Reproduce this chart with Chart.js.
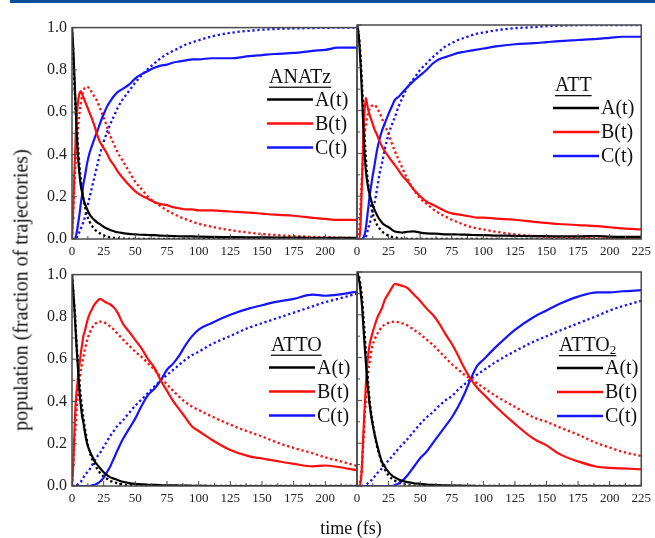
<!DOCTYPE html>
<html>
<head>
<meta charset="utf-8">
<script src="https://cdn.jsdelivr.net/npm/chart.js@4.4.1/dist/chart.umd.min.js"></script>
<style>
  body { margin: 0; background: #fff; width: 655px; height: 538px; position: relative; overflow: hidden; font-family: "Liberation Serif", serif; }
  #bar { position: absolute; left: 10px; top: 0; width: 645px; height: 3px; background: #0b4f9c; }
  canvas { position: absolute; }
  #ytitle { position: absolute; left: 21px; top: 290px; transform: translate(-50%, -50%) rotate(-90deg); white-space: nowrap; font-size: 20px; color: #111; }
  #xtitle { position: absolute; left: 351px; top: 528px; transform: translate(-50%, -50%); white-space: nowrap; font-size: 18px; color: #111; }
</style>
</head>
<body>
<div id="bar"></div>
<canvas id="anatz" width="344" height="254"></canvas>
<canvas id="att" width="344" height="254"></canvas>
<canvas id="atto" width="344" height="254"></canvas>
<canvas id="atto2" width="344" height="254"></canvas>
<div id="ytitle">population (fraction of trajectories)</div>
<div id="xtitle">time (fs)</div>
<script>
// sample times (fs), shared by every series
const time = [0,1,2,3,4,5,6,7,8,9,10,12,14,16,18,20,22,25,28,30,33,36,40,45,50,55,60,65,70,75,80,85,90,95,100,110,125,140,150,160,175,190,200,210,225];

// ANATz
const anatzA    = [1,0.9,0.76,0.61,0.47,0.37,0.3,0.25,0.22,0.19,0.17, 0.14,0.115,0.1,0.088,0.078,0.07, 0.058,0.048,0.043,0.037,0.032, 0.028,0.024,0.022,0.02,0.019,0.018,0.016,0.015,0.014,0.013,0.012,0.012,0.011, 0.01,0.009,0.008,0.008,0.007,0.007,0.006,0.006,0.005,0.005];
const anatzAfit = [1,0.85,0.72,0.6,0.5,0.42,0.34,0.28,0.23,0.19,0.16, 0.11,0.08,0.06,0.045,0.035,0.027, 0.017,0.011,0.008,0.005,0.003, 0.002,0.001,0,0,0,0,0,0,0,0,0,0,0, 0,0,0,0,0,0,0,0,0,0];
const anatzB    = [0,0.15,0.33,0.5,0.6,0.66,0.69,0.7,0.685,0.67,0.655, 0.625,0.595,0.565,0.53,0.49,0.46, 0.43,0.4,0.375,0.35,0.32, 0.29,0.255,0.225,0.205,0.19,0.175,0.165,0.16,0.15,0.145,0.14,0.14,0.135, 0.135,0.13,0.125,0.12,0.115,0.11,0.1,0.095,0.09,0.09];
const anatzBfit = [0,0.14,0.27,0.38,0.47,0.54,0.6,0.64,0.68,0.7,0.715, 0.72,0.71,0.69,0.67,0.65,0.62, 0.575,0.525,0.49,0.45,0.41, 0.37,0.32,0.27,0.235,0.2,0.175,0.155,0.135,0.12,0.105,0.093,0.082,0.072, 0.058,0.042,0.03,0.024,0.019,0.014,0.01,0.008,0.006,0.004];
const anatzC    = [0,0,0,0.01,0.04,0.08,0.12,0.17,0.21,0.26,0.29, 0.36,0.41,0.445,0.48,0.51,0.545, 0.59,0.63,0.65,0.675,0.695, 0.71,0.73,0.76,0.78,0.795,0.81,0.82,0.825,0.835,0.84,0.845,0.85,0.85, 0.855,0.855,0.865,0.87,0.875,0.88,0.89,0.895,0.905,0.905];
const anatzCfit = [0,0,0,0,0.01,0.02,0.035,0.05,0.065,0.08,0.1, 0.15,0.2,0.25,0.3,0.35,0.4, 0.46,0.51,0.54,0.58,0.62, 0.66,0.7,0.74,0.775,0.805,0.83,0.855,0.875,0.89,0.905,0.92,0.93,0.94, 0.958,0.975,0.985,0.99,0.993,0.996,0.998,0.999,1,1];

// ATT
const attA    = [1,0.97,0.9,0.8,0.67,0.52,0.4,0.32,0.27,0.235,0.21, 0.165,0.135,0.11,0.09,0.075,0.065, 0.055,0.042,0.035,0.032,0.03, 0.034,0.036,0.03,0.026,0.025,0.024,0.022,0.022,0.021,0.02,0.019,0.018,0.018, 0.016,0.015,0.013,0.013,0.012,0.012,0.014,0.011,0.01,0.01];
const attAfit = [1,0.97,0.92,0.83,0.72,0.6,0.48,0.38,0.3,0.25,0.2, 0.13,0.09,0.065,0.048,0.035,0.025, 0.015,0.009,0.007,0.004,0.002, 0.001,0,0,0,0,0,0,0,0,0,0,0,0, 0,0,0,0,0,0,0,0,0,0];
const attB    = [0,0,0,0.1,0.28,0.48,0.6,0.66,0.63,0.6,0.58, 0.545,0.51,0.485,0.455,0.43,0.41, 0.385,0.36,0.345,0.32,0.295, 0.27,0.23,0.2,0.175,0.16,0.145,0.13,0.12,0.115,0.11,0.105,0.1,0.1, 0.095,0.09,0.08,0.075,0.07,0.065,0.06,0.055,0.05,0.045];
const attBfit = [0,0,0.06,0.18,0.3,0.4,0.49,0.53,0.57,0.59,0.61, 0.623,0.626,0.61,0.59,0.56,0.53, 0.49,0.44,0.41,0.37,0.33, 0.28,0.23,0.19,0.165,0.14,0.12,0.105,0.09,0.078,0.066,0.057,0.05,0.045, 0.034,0.022,0.014,0.01,0.008,0.005,0.003,0.002,0.001,0];
const attC    = [0,0,0,0,0,0.005,0.02,0.05,0.1,0.15,0.2, 0.28,0.35,0.42,0.47,0.51,0.54, 0.585,0.625,0.65,0.665,0.685, 0.71,0.74,0.765,0.79,0.82,0.84,0.85,0.86,0.87,0.875,0.88,0.885,0.89, 0.9,0.91,0.915,0.92,0.925,0.93,0.935,0.94,0.945,0.945];
const attCfit = [0,0,0,0,0,0,0,0.01,0.03,0.05,0.07, 0.12,0.17,0.24,0.31,0.36,0.42, 0.49,0.54,0.57,0.62,0.66, 0.71,0.75,0.79,0.82,0.85,0.875,0.9,0.915,0.93,0.94,0.95,0.96,0.965, 0.975,0.985,0.99,0.995,0.997,0.999,1,1,1,1];

// ATTO
const attoA    = [1,0.92,0.83,0.72,0.62,0.53,0.44,0.38,0.33,0.3,0.26, 0.2,0.165,0.14,0.115,0.1,0.085, 0.065,0.05,0.042,0.035,0.028, 0.02,0.014,0.01,0.008,0.006,0.005,0.004,0.003,0.003,0.002,0.002,0.001,0.001, 0,0,0,0,0,0,0,0,0,0];
const attoAfit = [1,0.92,0.84,0.74,0.64,0.56,0.48,0.42,0.37,0.32,0.28, 0.21,0.16,0.125,0.1,0.08,0.063, 0.045,0.033,0.025,0.018,0.013, 0.008,0.004,0.002,0.001,0,0,0,0,0,0,0,0,0, 0,0,0,0,0,0,0,0,0,0];
const attoB    = [0,0.1,0.27,0.4,0.47,0.53,0.58,0.63,0.67,0.71,0.73, 0.78,0.815,0.84,0.86,0.875,0.885, 0.875,0.865,0.86,0.845,0.82, 0.77,0.73,0.69,0.65,0.6,0.56,0.5,0.45,0.4,0.36,0.32,0.28,0.26, 0.22,0.17,0.14,0.13,0.12,0.105,0.093,0.097,0.09,0.075];
const attoBfit = [0,0.11,0.21,0.3,0.39,0.45,0.5,0.55,0.58,0.61,0.64, 0.69,0.725,0.75,0.765,0.775,0.778, 0.775,0.765,0.755,0.74,0.72, 0.695,0.665,0.635,0.61,0.58,0.55,0.515,0.48,0.45,0.42,0.395,0.375,0.36, 0.33,0.29,0.255,0.235,0.21,0.18,0.155,0.135,0.12,0.095];
const attoC    = [0,0,0,0,0,0,0,0,0,0,0, 0,0,0.003,0.006,0.012,0.02, 0.04,0.07,0.09,0.13,0.17, 0.22,0.27,0.32,0.38,0.43,0.46,0.5,0.55,0.58,0.62,0.67,0.71,0.74, 0.77,0.81,0.84,0.855,0.87,0.885,0.905,0.9,0.905,0.92];
const attoCfit = [0,0,0,0,0.005,0.01,0.015,0.02,0.03,0.04,0.05, 0.065,0.08,0.1,0.12,0.14,0.155, 0.185,0.215,0.235,0.26,0.285, 0.31,0.345,0.38,0.41,0.44,0.47,0.5,0.525,0.55,0.575,0.6,0.62,0.635, 0.67,0.71,0.75,0.77,0.79,0.82,0.85,0.87,0.885,0.91];

// ATTO2
const atto2A    = [1,0.98,0.95,0.9,0.84,0.75,0.66,0.58,0.5,0.44,0.38, 0.3,0.24,0.19,0.145,0.11,0.09, 0.065,0.048,0.04,0.03,0.024, 0.018,0.013,0.01,0.007,0.005,0.004,0.003,0.002,0.002,0.001,0.001,0,0, 0,0,0,0,0,0,0,0,0,0];
const atto2Afit = [1,0.99,0.97,0.93,0.88,0.8,0.72,0.63,0.55,0.47,0.4, 0.31,0.24,0.18,0.14,0.1,0.078, 0.05,0.033,0.025,0.017,0.01, 0.005,0.002,0,0,0,0,0,0,0,0,0,0,0, 0,0,0,0,0,0,0,0,0,0];
const atto2B    = [0,0,0,0.02,0.1,0.24,0.36,0.47,0.56,0.62,0.66, 0.71,0.75,0.785,0.81,0.835,0.87, 0.9,0.93,0.945,0.94,0.935, 0.925,0.895,0.865,0.83,0.8,0.76,0.71,0.665,0.61,0.55,0.5,0.46,0.43, 0.37,0.29,0.22,0.19,0.15,0.115,0.09,0.085,0.082,0.078];
const atto2Bfit = [0,0,0.01,0.04,0.1,0.2,0.32,0.4,0.48,0.54,0.58, 0.65,0.685,0.71,0.73,0.745,0.755, 0.762,0.767,0.768,0.765,0.76, 0.75,0.73,0.71,0.685,0.66,0.63,0.6,0.57,0.545,0.52,0.5,0.48,0.46, 0.42,0.37,0.32,0.3,0.275,0.24,0.2,0.18,0.16,0.14];
const atto2C    = [0,0,0,0,0,0,0,0,0,0,0, 0,0,0,0,0,0, 0,0,0.005,0.012,0.025, 0.05,0.09,0.13,0.16,0.2,0.24,0.28,0.32,0.37,0.43,0.5,0.56,0.59, 0.65,0.73,0.79,0.82,0.85,0.885,0.905,0.905,0.91,0.915];
const atto2Cfit = [0,0,0,0,0,0,0.003,0.006,0.01,0.015,0.02, 0.03,0.045,0.06,0.07,0.085,0.1, 0.12,0.14,0.155,0.175,0.195, 0.22,0.255,0.29,0.32,0.345,0.375,0.4,0.42,0.45,0.475,0.5,0.52,0.54, 0.58,0.63,0.675,0.7,0.725,0.76,0.795,0.82,0.84,0.865];

const seriesLabels = ['A(t)', 'B(t)', 'C(t)'];
const colors = ['#000000', '#ff0d0d', '#1414ff'];

const FONT = '"Liberation Serif", serif';

// plot area of each panel, in page pixels
const panels = [
  { id: 'anatz', title: 'ANATz', sub: '', left: 72,  top: 25,  yLabels: true,  lastX: false, legX: 195, legY: 72,
    fits: [anatzA, anatzB, anatzC], model: [anatzAfit, anatzBfit, anatzCfit] },
  { id: 'att',   title: 'ATT',   sub: '', left: 357, top: 25,  yLabels: false, lastX: true,  legX: 196, legY: 83,
    fits: [attA, attB, attC], model: [attAfit, attBfit, attCfit] },
  { id: 'atto',  title: 'ATTO',  sub: '', left: 72,  top: 272, yLabels: true,  lastX: false, legX: 197, legY: 93,
    fits: [attoA, attoB, attoC], model: [attoAfit, attoBfit, attoCfit] },
  { id: 'atto2', title: 'ATTO', sub: '2', left: 357, top: 272, yLabels: false, lastX: true,  legX: 200, legY: 96,
    fits: [atto2A, atto2B, atto2C], model: [atto2Afit, atto2Bfit, atto2Cfit] }
];

const AXIS_W = 45, AXIS_H = 28, PAD_T = 12, PAD_R = 14;

function pts(arr) {
  return time.map((t, i) => ({ x: t, y: arr[i] }));
}

// box around the plot area plus inward ticks
const framePlugin = {
  id: 'frame',
  afterDatasetsDraw(chart) {
    const { ctx, chartArea: a, scales: { x, y } } = chart;
    ctx.save();
    ctx.strokeStyle = '#4a4a4a';
    ctx.lineWidth = 1;
    ctx.beginPath();
    for (let k = 0; k <= 18; k++) {
      const px = x.getPixelForValue(k * 12.5);
      const len = k % 2 ? 3 : 5;
      ctx.moveTo(px, a.bottom);
      ctx.lineTo(px, a.bottom - len);
    }
    for (let k = 0; k <= 10; k++) {
      const py = y.getPixelForValue(k / 10);
      const len = k % 2 ? 3 : 5;
      ctx.moveTo(a.left, py);
      ctx.lineTo(a.left + len, py);
    }
    ctx.stroke();
    ctx.lineWidth = 1.5;
    ctx.strokeRect(a.left, a.top, a.right - a.left, a.bottom - a.top);
    ctx.restore();
  }
};

// legend drawn inside the plot: underlined title and three line samples
const panelLegend = {
  id: 'panelLegend',
  afterDraw(chart, args, opts) {
    const { ctx, chartArea: a } = chart;
    const x0 = a.left + opts.x;
    const y0 = a.top + opts.y;
    ctx.save();
    ctx.fillStyle = '#111';
    ctx.textAlign = 'left';
    ctx.textBaseline = 'alphabetic';
    ctx.font = '20px ' + FONT;
    const tb = y0 - 17;
    ctx.fillText(opts.title, x0 + 2, tb);
    let w = ctx.measureText(opts.title).width;
    if (opts.sub) {
      ctx.font = '13px ' + FONT;
      ctx.fillText(opts.sub, x0 + 2 + w, tb + 3);
      w += ctx.measureText(opts.sub).width;
    }
    ctx.fillRect(x0 + 2, tb + 4, w, 1.3);

    ctx.font = '20px ' + FONT;
    ctx.textBaseline = 'middle';
    const items = chart.data.datasets.filter(d => !d.borderDash);
    items.forEach((d, i) => {
      const yy = y0 + i * 24;
      ctx.strokeStyle = d.borderColor;
      ctx.lineWidth = 2.5;
      ctx.beginPath();
      ctx.moveTo(x0, yy);
      ctx.lineTo(x0 + 46, yy);
      ctx.stroke();
      ctx.fillStyle = '#111';
      ctx.fillText(d.label, x0 + 48, yy + 1);
    });
    ctx.restore();
  }
};

function build() {
  panels.forEach(p => {
    const canvas = document.getElementById(p.id);
    canvas.style.left = (p.left - AXIS_W) + 'px';
    canvas.style.top = (p.top - PAD_T) + 'px';

    const datasets = [];
    p.fits.forEach((arr, i) => {
      datasets.push({
        label: seriesLabels[i], data: pts(arr),
        borderColor: colors[i], backgroundColor: colors[i],
        borderWidth: 2.2, pointRadius: 0, cubicInterpolationMode: 'monotone'
      });
    });
    p.model.forEach((arr, i) => {
      datasets.push({
        label: seriesLabels[i] + ' fit', data: pts(arr),
        borderColor: colors[i], backgroundColor: colors[i],
        borderWidth: 2.3, borderDash: [2.3, 2.7], borderCapStyle: 'butt',
        pointRadius: 0, cubicInterpolationMode: 'monotone'
      });
    });

    new Chart(canvas, {
      type: 'line',
      data: { datasets },
      options: {
        responsive: false,
        animation: false,
        layout: { padding: { top: PAD_T, right: PAD_R, left: 0, bottom: 0 } },
        plugins: {
          legend: { display: false },
          tooltip: { enabled: false },
          panelLegend: { title: p.title, sub: p.sub, x: p.legX, y: p.legY }
        },
        scales: {
          x: {
            type: 'linear', min: 0, max: 225,
            grid: { display: false, drawTicks: false },
            border: { display: false },
            ticks: {
              stepSize: 25, maxRotation: 0, autoSkip: false, padding: 5,
              color: '#222', font: { family: FONT, size: 13 },
              callback: v => (v === 225 && !p.lastX) ? '' : v
            },
            afterFit: s => { s.height = AXIS_H; }
          },
          y: {
            min: 0, max: 1,
            grid: { display: false, drawTicks: false },
            border: { display: false },
            ticks: {
              display: p.yLabels, stepSize: 0.2, padding: 5,
              color: '#222', font: { family: FONT, size: 16 },
              callback: v => v.toFixed(1)
            },
            afterFit: s => { s.width = AXIS_W; }
          }
        }
      },
      plugins: [framePlugin, panelLegend]
    });
  });
}

Chart.defaults.font.family = FONT;
Promise.all([
  document.fonts.load('20px "Liberation Serif"'),
  document.fonts.load('13px "Liberation Serif"')
]).then(build, build);
</script>
</body>
</html>
